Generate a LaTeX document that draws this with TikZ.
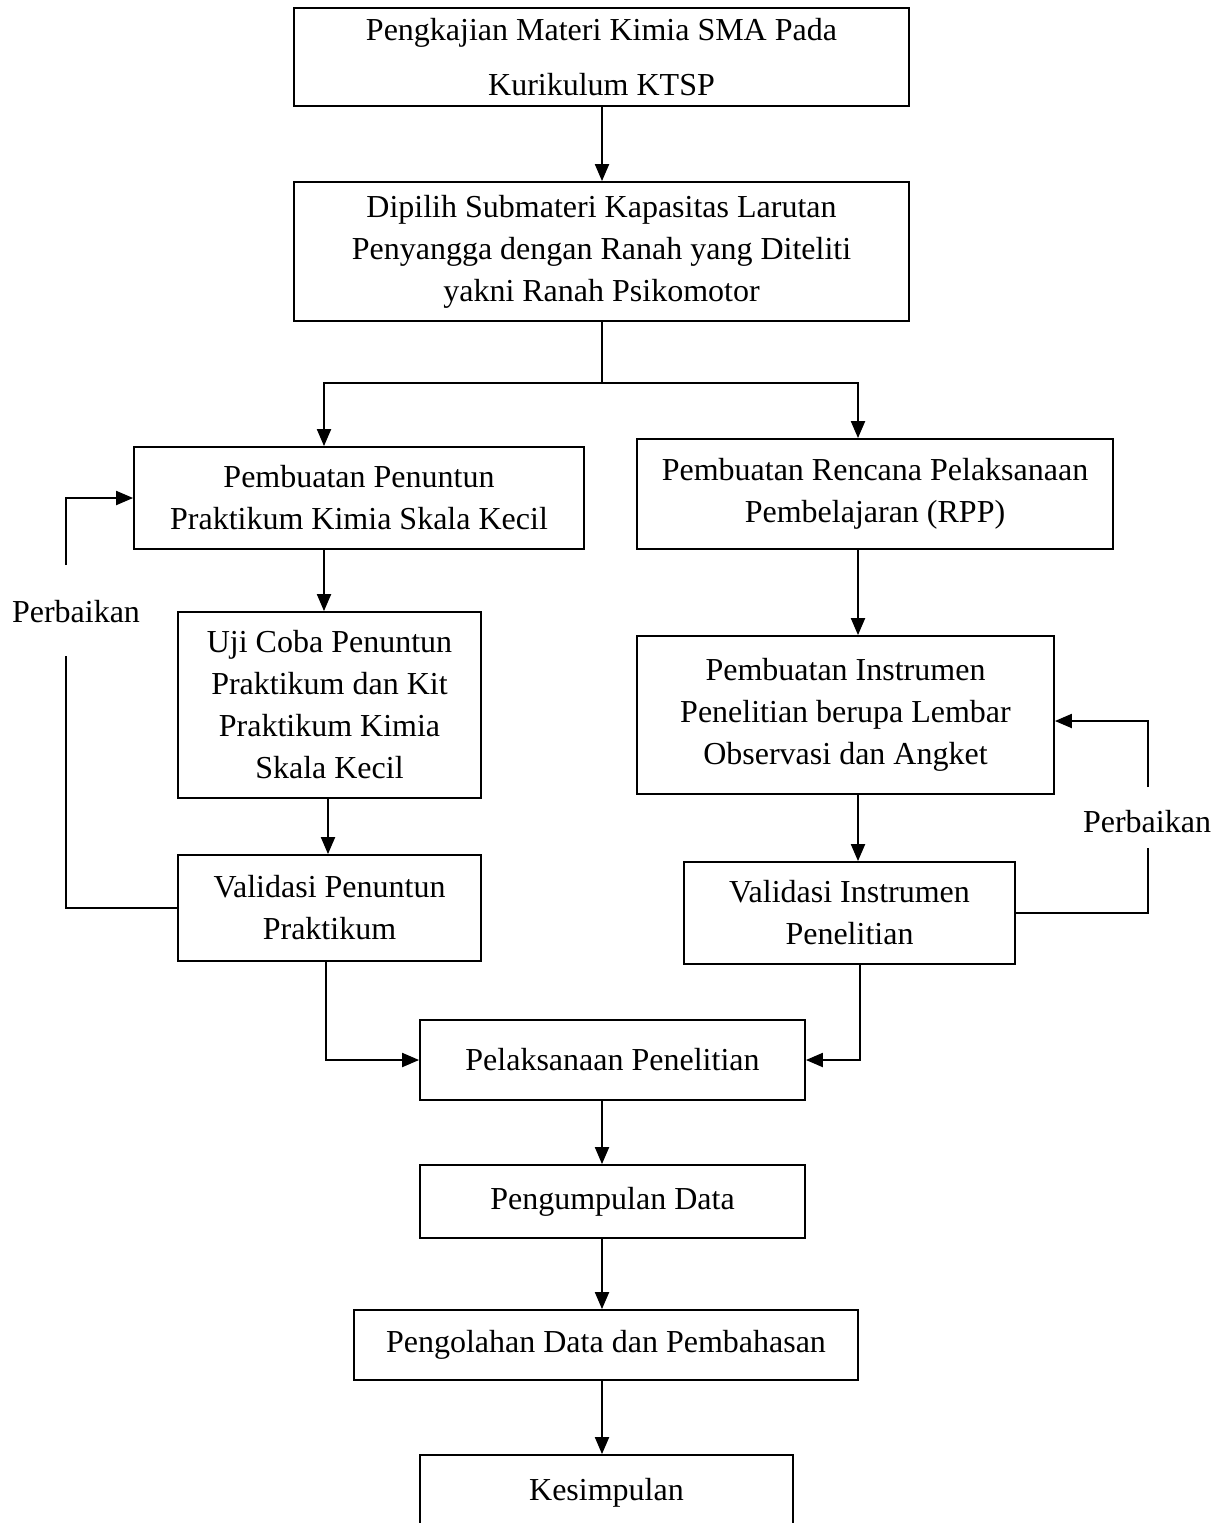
\documentclass[tikz,border=0pt]{standalone}
\usepackage{fontspec}
\setmainfont{Liberation Serif}
\usetikzlibrary{arrows.meta}
\begin{document}
\begin{tikzpicture}[x=1pt,y=-1pt,
  box/.style={draw, line width=1.8pt, align=center, inner sep=0pt, font=\fontsize{32}{42}\selectfont},
  arr/.style={line width=2pt, -{Triangle[length=17pt,width=14pt]}},
  ln/.style={line width=1.8pt},
  lbl/.style={inner sep=0pt, font=\fontsize{32}{42}\selectfont}]
\useasboundingbox (0,0) rectangle (1229,1523);
\fill[white] (0,0) rectangle (1229,1523);

\node[box, font=\fontsize{32}{55}\selectfont, minimum width=615pt, minimum height=98pt] (b1) at (601.5,57) {Pengkajian Materi Kimia SMA Pada\\Kurikulum KTSP};
\node[box, minimum width=615pt, minimum height=139pt] (b2) at (601.5,251.5) {Dipilih Submateri Kapasitas Larutan\\Penyangga dengan Ranah yang Diteliti\\yakni Ranah Psikomotor};
\node[box, minimum width=450pt, minimum height=102pt] (b3) at (359,498) {Pembuatan Penuntun\\Praktikum Kimia Skala Kecil};
\node[box, minimum width=476pt, minimum height=110pt] (b4) at (875,494) {Pembuatan Rencana Pelaksanaan\\Pembelajaran (RPP)};
\node[box, minimum width=303pt, minimum height=186pt] (b5) at (329.5,705) {Uji Coba Penuntun\\Praktikum dan Kit\\Praktikum Kimia\\Skala Kecil};
\node[box, minimum width=303pt, minimum height=106pt] (b6) at (329.5,908) {Validasi Penuntun\\Praktikum};
\node[box, minimum width=417pt, minimum height=158pt] (b7) at (845.5,715) {Pembuatan Instrumen\\Penelitian berupa Lembar\\Observasi dan Angket};
\node[box, minimum width=331pt, minimum height=102pt] (b8) at (849.5,913) {Validasi Instrumen\\Penelitian};
\node[box, minimum width=385pt, minimum height=80pt] (b9) at (612.5,1060) {Pelaksanaan Penelitian};
\node[box, minimum width=385pt, minimum height=73pt] (b10) at (612.5,1201.5) {Pengumpulan Data};
\node[box, minimum width=504pt, minimum height=70pt] (b11) at (606,1345) {Pengolahan Data dan Pembahasan};
\node[box, minimum width=373pt, minimum height=76pt] (b12) at (606.5,1493) {Kesimpulan};

\node[lbl] (p1) at (76,612) {Perbaikan};
\node[lbl] (p2) at (1147,822) {Perbaikan};

% main flow
\draw[arr] (602,0 |- b1.south) -- (602,0 |- b2.north);
\coordinate (j) at (602,383);
\draw[ln] (602,0 |- b2.south) -- (j);
\draw[arr] (j) -| (324,0 |- b3.north);
\draw[arr] (j) -| (858,0 |- b4.north);
\draw[arr] (324,0 |- b3.south) -- (324,0 |- b5.north);
\draw[arr] (328,0 |- b5.south) -- (328,0 |- b6.north);
\draw[arr] (858,0 |- b4.south) -- (858,0 |- b7.north);
\draw[arr] (858,0 |- b7.south) -- (858,0 |- b8.north);

% feedback left
\coordinate (p1b) at (66,656);
\coordinate (p1t) at (66,565);
\draw[ln] (b6.west) -| (p1b);
\draw[arr] (p1t) |- (b3.west);

% feedback right
\coordinate (p2b) at (1148,848);
\coordinate (p2t) at (1148,787);
\draw[ln] (b8.east) -| (p2b);
\draw[arr] (p2t) |- (b7.east |- 0,721);

% merge
\draw[arr] (326,0 |- b6.south) |- (b9.west);
\draw[arr] (860,0 |- b8.south) |- (b9.east);

\draw[arr] (602,0 |- b9.south) -- (602,0 |- b10.north);
\draw[arr] (602,0 |- b10.south) -- (602,0 |- b11.north);
\draw[arr] (602,0 |- b11.south) -- (602,0 |- b12.north);
\end{tikzpicture}
\end{document}
